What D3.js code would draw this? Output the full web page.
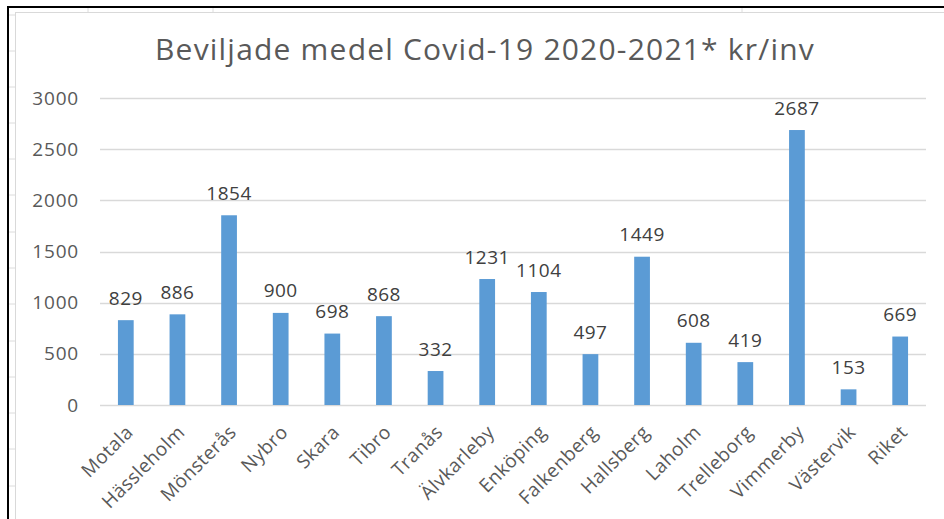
<!DOCTYPE html>
<html>
<head>
<meta charset="utf-8">
<script src="https://cdn.jsdelivr.net/npm/d3@7"></script>
<style>
  html, body { margin: 0; padding: 0; background: #fff; }
  svg { display: block; font-family: "Open Sans", "Noto Sans", sans-serif; }
</style>
</head>
<body>
<svg id="chart" width="944" height="519"></svg>
<script>
const title = "Beviljade medel Covid-19 2020-2021* kr/inv";
const categories = ["Motala", "Hässleholm", "Mönsterås", "Nybro", "Skara", "Tibro", "Tranås", "Älvkarleby", "Enköping", "Falkenberg", "Hallsberg", "Laholm", "Trelleborg", "Vimmerby", "Västervik", "Riket"];
const values = [829, 886, 1854, 900, 698, 868, 332, 1231, 1104, 497, 1449, 608, 419, 2687, 153, 669];
const yTicks = [0, 500, 1000, 1500, 2000, 2500, 3000];

const W = 944, H = 519;
const svg = d3.select("#chart");

// spreadsheet frame behind the chart
const frame = svg.append("g");
frame.append("rect").attr("x", 0).attr("y", 0).attr("width", W).attr("height", H).attr("fill", "#fff");
[15, 51, 87, 123, 159, 195, 232, 268, 304, 341, 377, 413, 449, 486].forEach(y => {
  frame.append("line").attr("x1", 9).attr("x2", 15).attr("y1", y).attr("y2", y).attr("stroke", "#dcdcdc");
});
[88, 213, 742].forEach(x => {
  frame.append("line").attr("x1", x).attr("x2", x).attr("y1", 8).attr("y2", 12).attr("stroke", "#dcdcdc");
});
frame.append("line").attr("x1", 15.5).attr("x2", 15.5).attr("y1", 12).attr("y2", H).attr("stroke", "#d9d9d9");
frame.append("line").attr("x1", 15).attr("x2", W).attr("y1", 12.5).attr("y2", 12.5).attr("stroke", "#d9d9d9");
frame.append("line").attr("x1", 8).attr("x2", W).attr("y1", 7).attr("y2", 7).attr("stroke", "#000").attr("stroke-width", 2);
frame.append("line").attr("x1", 8).attr("x2", 8).attr("y1", 6).attr("y2", H).attr("stroke", "#000").attr("stroke-width", 2);

const plot = { left: 100, right: 926, top: 98, bottom: 405 };

const x = d3.scaleBand().domain(categories).range([plot.left, plot.right]).paddingInner(0.695).paddingOuter(0.3475);
const y = d3.scaleLinear().domain([0, 3000]).range([plot.bottom, plot.top]);

// title
svg.append("text")
  .attr("x", 485).attr("y", 60)
  .attr("text-anchor", "middle")
  .attr("fill", "#595959")
  .attr("font-size", 30)
  .attr("letter-spacing", 1.2)
  .text(title);

// gridlines
svg.append("g")
  .selectAll("line").data(yTicks).join("line")
  .attr("x1", plot.left).attr("x2", plot.right)
  .attr("y1", d => Math.round(y(d)) + 0.5).attr("y2", d => Math.round(y(d)) + 0.5)
  .attr("stroke", "#d9d9d9").attr("stroke-width", 1.3);

// y axis labels
const yAxis = svg.append("g")
  .attr("transform", `translate(${plot.left},0)`)
  .call(d3.axisLeft(y).tickValues(yTicks).tickSize(0).tickPadding(21).tickFormat(d3.format("d")));
yAxis.select(".domain").remove();
yAxis.selectAll("text").attr("fill", "#595959").attr("font-size", 19).attr("letter-spacing", 0.8).attr("font-family", "Open Sans");

// bars
svg.append("g")
  .selectAll("rect").data(values).join("rect")
  .attr("x", (d, i) => x(categories[i]))
  .attr("y", d => y(d))
  .attr("width", x.bandwidth())
  .attr("height", d => y(0) - y(d))
  .attr("fill", "#5b9bd5");

// data labels
svg.append("g")
  .selectAll("text").data(values).join("text")
  .attr("x", (d, i) => x(categories[i]) + x.bandwidth() / 2)
  .attr("y", d => y(d) - 15.5)
  .attr("text-anchor", "middle")
  .attr("fill", "#404040")
  .attr("font-size", 19)
  .attr("letter-spacing", 0.5)
  .text(d => d);

// x axis labels
const xAxis = svg.append("g")
  .attr("transform", `translate(0,${plot.bottom})`)
  .call(d3.axisBottom(x).tickSize(0).tickPadding(0));
xAxis.select(".domain").remove();
xAxis.selectAll("text")
  .attr("fill", "#595959")
  .attr("font-size", 19)
  .attr("letter-spacing", 0.4)
  .attr("font-family", "Open Sans")
  .attr("text-anchor", "end")
  .attr("dy", "0.7em")
  .attr("transform", "translate(-1,19) rotate(-45)");
</script>
</body>
</html>
